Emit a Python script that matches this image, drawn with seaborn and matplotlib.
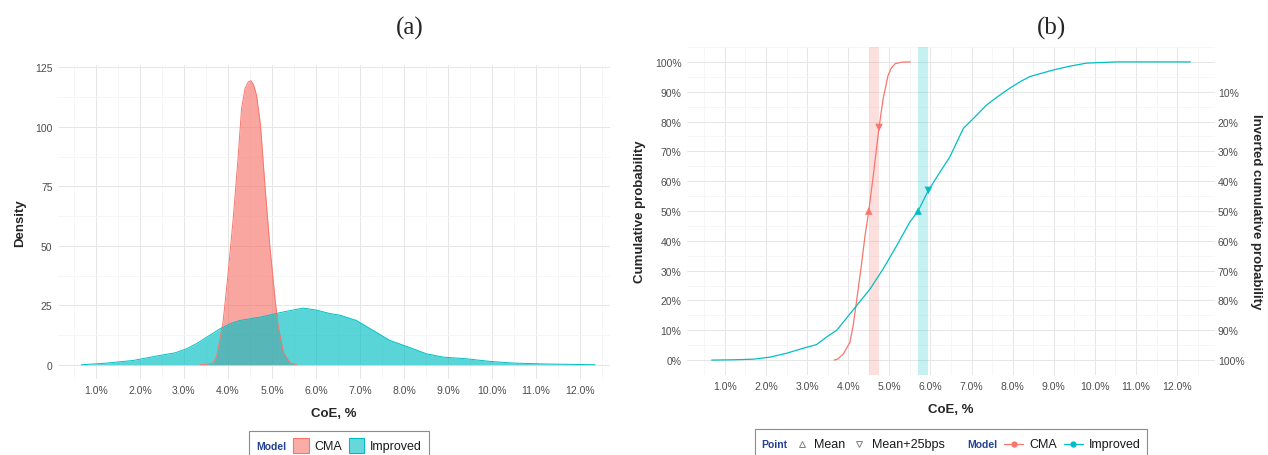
import matplotlib
matplotlib.use("Agg")
import matplotlib.pyplot as plt
from matplotlib.lines import Line2D
from matplotlib.patches import Rectangle
from matplotlib.colors import to_rgba
from matplotlib.ticker import MultipleLocator, FuncFormatter
from matplotlib.offsetbox import AnchoredOffsetbox, HPacker, TextArea, DrawingArea
import pandas as pd
import seaborn as sns

models = ["CMA", "Improved"]
palette = {"CMA": "#F8766D", "Improved": "#00BFC4"}

# (a) density curves, x in CoE %
cma_dens_x = [3.37, 3.52, 3.67, 3.74, 3.82, 3.89, 4.00, 4.12, 4.23, 4.31, 4.39, 4.46,
              4.52, 4.58, 4.65, 4.74, 4.84, 4.95, 5.07, 5.14, 5.26, 5.41, 5.56]
cma_dens_y = [0, 0.2, 0.8, 3.5, 10.9, 18.0, 37.6, 61.4, 86.7, 107.7, 116.2, 118.8,
              119.4, 117.8, 113.3, 100.7, 75.5, 50.2, 27.8, 16.5, 5.3, 0.8, 0]
imp_dens_x = [0.67, 1.2, 1.85, 2.45, 2.8, 3.06, 3.3, 3.52, 3.82, 4.05, 4.27, 4.73, 5.26,
              5.71, 6.0, 6.32, 6.55, 6.92, 7.30, 7.68, 8.06, 8.51, 8.89, 9.42, 9.95,
              10.48, 11.24, 12.34]
imp_dens_y = [0, 0.6, 1.8, 3.9, 5.0, 6.7, 9.0, 11.6, 15.1, 17.2, 18.6, 20.0, 22.2,
              23.8, 23.0, 21.5, 20.8, 18.6, 14.4, 10.2, 7.7, 4.6, 3.2, 2.5, 1.4,
              0.7, 0.3, 0]

# (b) cumulative probability, %
cma_cdf_x = [3.66, 3.74, 3.88, 4.04, 4.12, 4.20, 4.33, 4.41, 4.50, 4.61, 4.75, 4.85,
             4.97, 5.05, 5.14, 5.30, 5.51]
cma_cdf_y = [0, 0.3, 2.0, 5.9, 11.5, 19.4, 32.8, 41.8, 50.0, 61.9, 78.0, 87.7,
             95.5, 98.0, 99.4, 99.9, 100]
imp_cdf_x = [0.68, 1.2, 1.69, 2.10, 2.50, 2.99, 3.23, 3.47, 3.72, 3.88, 4.20, 4.53,
             4.85, 5.18, 5.50, 5.70, 5.95, 6.23, 6.47, 6.80, 7.10, 7.37, 7.65, 7.93,
             8.20, 8.42, 8.99, 9.40, 9.80, 10.53, 11.2, 12.32]
imp_cdf_y = [0, 0.1, 0.3, 1.0, 2.3, 4.3, 5.2, 7.7, 10.0, 12.7, 18.2, 23.8,
             30.6, 38.4, 46.3, 50.0, 56.9, 63.0, 68.1, 77.7, 81.8, 85.6, 88.5, 91.2,
             93.5, 95.1, 97.3, 98.6, 99.6, 100, 100, 100]

# mean and mean+25bps points
mean_x = [4.50, 5.70]
mean_y = [50.0, 50.0]
mean25_x = [4.75, 5.95]
mean25_y = [78.0, 56.9]

x_ticks = list(range(1, 13))

dens = pd.concat([
    pd.DataFrame({"CoE": cma_dens_x, "Density": cma_dens_y, "Model": "CMA"}),
    pd.DataFrame({"CoE": imp_dens_x, "Density": imp_dens_y, "Model": "Improved"}),
])
cdf = pd.concat([
    pd.DataFrame({"CoE": cma_cdf_x, "P": cma_cdf_y, "Model": "CMA"}),
    pd.DataFrame({"CoE": imp_cdf_x, "P": imp_cdf_y, "Model": "Improved"}),
])
pts = pd.DataFrame({"Model": models, "mean_x": mean_x, "mean_y": mean_y,
                    "m25_x": mean25_x, "m25_y": mean25_y})

sns.set_theme(style="whitegrid")
plt.rcParams["font.family"] = ["Liberation Sans", "DejaVu Sans"]

W, H = 1268, 456
fig = plt.figure(figsize=(W / 100, H / 100), dpi=100)
ax1 = fig.add_axes([58 / W, 1 - 380 / H, 552 / W, 314 / H])
ax2 = fig.add_axes([687 / W, 1 - 376 / H, 528 / W, 328 / H])

tick_col = "#4D4D4D"
pct1 = FuncFormatter(lambda v, p: f"{v:.1f}%")

# ---- (a) density
for m in models:
    d = dens[dens["Model"] == m]
    ax1.fill_between(d["CoE"], d["Density"], color=palette[m], alpha=0.65, lw=0)
    sns.lineplot(data=d, x="CoE", y="Density", color=palette[m], lw=0.7,
                 sort=False, estimator=None, ax=ax1)
ax1.set_xlim(0.14, 12.68)
ax1.set_ylim(-6, 126)
ax1.yaxis.set_major_locator(MultipleLocator(25))
ax1.yaxis.set_minor_locator(MultipleLocator(12.5))
ax1.set_ylabel("Density", fontsize=9.5, fontweight="bold", labelpad=6)

# ---- (b) cumulative
for i, m in enumerate(models):
    ax2.axvspan(mean_x[i], mean25_x[i], color=palette[m], alpha=0.22, lw=0)
sns.lineplot(data=cdf, x="CoE", y="P", hue="Model", palette=palette, lw=0.9,
             sort=False, estimator=None, legend=False, ax=ax2)
sns.scatterplot(data=pts, x="mean_x", y="mean_y", hue="Model", palette=palette,
                marker="^", s=30, linewidth=0, legend=False, ax=ax2, zorder=5)
sns.scatterplot(data=pts, x="m25_x", y="m25_y", hue="Model", palette=palette,
                marker="v", s=30, linewidth=0, legend=False, ax=ax2, zorder=5)
ax2.set_xlim(0.08, 12.92)
ax2.set_ylim(-5, 105)
ax2.yaxis.set_major_locator(MultipleLocator(10))
ax2.yaxis.set_minor_locator(MultipleLocator(5))
ax2.yaxis.set_major_formatter(FuncFormatter(lambda v, p: f"{v:.0f}%"))
ax2.set_ylabel("Cumulative probability", fontsize=9.5, fontweight="bold", labelpad=6)

ax2r = ax2.twinx()
ax2r.set_ylim(ax2.get_ylim())
ax2r.set_yticks(list(range(0, 100, 10)))
ax2r.set_yticklabels([f"{100 - v}%" for v in range(0, 100, 10)])
ax2r.grid(False)
ax2r.tick_params(length=0, labelsize=7.5, labelcolor=tick_col, pad=2)
for s in ax2r.spines.values():
    s.set_visible(False)
ax2r.set_ylabel("Inverted cumulative probability", fontsize=9.5, fontweight="bold",
                rotation=270, labelpad=13)

for ax in (ax1, ax2):
    ax.set_facecolor("white")
    ax.set_xticks(x_ticks)
    ax.xaxis.set_minor_locator(MultipleLocator(0.5))
    ax.xaxis.set_major_formatter(pct1)
    ax.grid(which="major", color="#E6E6E6", lw=0.7)
    ax.grid(which="minor", color="#F3F3F3", lw=0.5)
    ax.tick_params(which="both", length=0, labelsize=7.5, labelcolor=tick_col, pad=4)
    for s in ax.spines.values():
        s.set_visible(False)
    ax.set_xlabel("CoE, %", fontsize=9.5, fontweight="bold", labelpad=9)
    ax.set_axisbelow(True)

fig.text(410 / W, 1 - 28 / H, "(a)", family="Liberation Serif", fontsize=18,
         ha="center", va="center")
fig.text(1052 / W, 1 - 28 / H, "(b)", family="Liberation Serif", fontsize=18,
         ha="center", va="center")

# ---- legends (ggplot style: bold title inline with the keys)
title_col = "#23418F"
lab_props = dict(fontsize=9, color="#1A1A1A")
ttl_props = dict(fontsize=7.5, color=title_col, fontweight="bold")


def key_box(kind, color=None):
    if kind == "patch":
        da = DrawingArea(11, 11, 0, 0)
        da.add_artist(Rectangle((0, 0), 11, 11, facecolor=to_rgba(color, 0.6),
                                edgecolor=color, lw=0.8))
    elif kind in ("^", "v"):
        da = DrawingArea(10, 11, 0, 0)
        da.add_artist(Line2D([5], [5.5], ls="none", marker=kind, ms=4.5, mfc="none",
                             mec="#808080", mew=0.7))
    else:
        da = DrawingArea(14, 11, 0, 0)
        da.add_artist(Line2D([0, 14], [5.5, 5.5], color=color, lw=0.9))
        da.add_artist(Line2D([7], [5.5], ls="none", marker="o", ms=3.5, color=color))
    return da


def group(title, entries):
    kids = [TextArea(title, textprops=ttl_props)]
    for kind, color, label in entries:
        kids.append(HPacker(children=[key_box(kind, color), TextArea(label, textprops=lab_props)],
                            align="center", pad=0, sep=4))
    return HPacker(children=kids, align="center", pad=0, sep=5)


def add_legend(groups, x_px, y_px):
    row = HPacker(children=groups, align="center", pad=0, sep=16)
    box = AnchoredOffsetbox(loc="upper center", child=row, pad=0.45, borderpad=0,
                            frameon=True, bbox_to_anchor=(x_px / W, 1 - y_px / H),
                            bbox_transform=fig.transFigure)
    box.patch.set_boxstyle("square", pad=0)
    box.patch.set_edgecolor("#8C8C8C")
    box.patch.set_linewidth(0.8)
    fig.add_artist(box)


add_legend([group("Model", [("patch", palette[m], m) for m in models])], 339, 432)
add_legend([group("Point", [("^", None, "Mean"), ("v", None, "Mean+25bps")]),
            group("Model", [("line", palette[m], m) for m in models])], 951, 430)

fig.savefig("out.png", dpi=100, facecolor="white")
